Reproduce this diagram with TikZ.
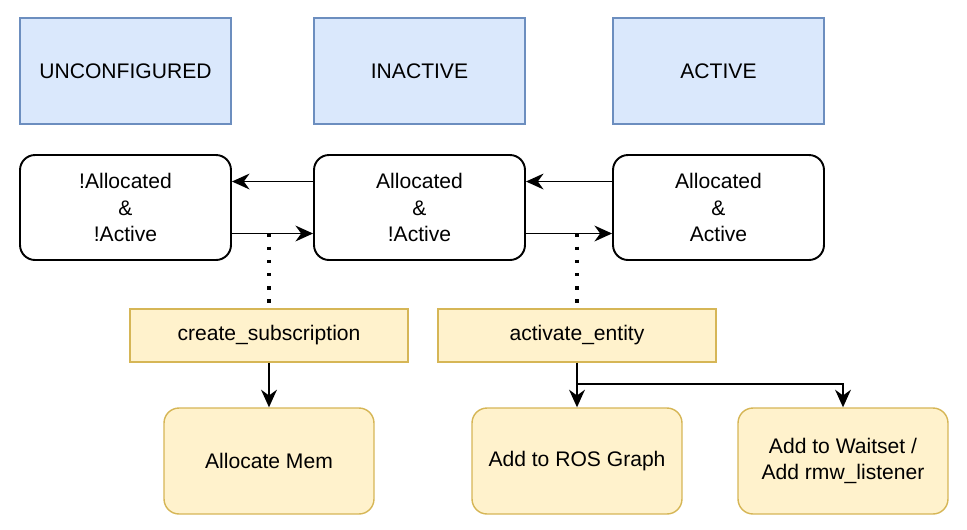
\documentclass[tikz,border=0pt]{standalone}
\usepackage{fontspec}
\setmainfont{Liberation Sans}
\usepackage{xcolor}
\usepackage{tikz}
\usetikzlibrary{calc,arrows.meta}
\definecolor{bluefill}{HTML}{DAE8FC}
\definecolor{bluedraw}{HTML}{6C8EBF}
\definecolor{yelfill}{HTML}{FFF2CC}
\definecolor{yeldraw}{HTML}{D6B656}
\tikzset{
  txt/.style={font=\fontsize{12}{15}\selectfont, align=center, inner sep=2pt},
  phase/.style={txt, draw=bluedraw, fill=bluefill, line width=0.8pt, minimum width=4.22cm, minimum height=2.12cm},
  state/.style={txt, draw=black, fill=white, line width=1.1pt, rounded corners=0.3cm, minimum width=4.22cm, minimum height=2.1cm},
  call/.style={txt, draw=yeldraw, fill=yelfill, line width=0.8pt, minimum width=5.56cm, minimum height=1.06cm},
  task/.style={txt, draw=yeldraw, fill=yelfill, line width=0.8pt, rounded corners=0.3cm, minimum width=4.2cm, minimum height=2.12cm},
  arr/.style={draw=black, line width=1.1pt, -{Stealth[length=10pt,width=9pt]}},
  dots/.style={draw=black, line width=1.9pt, dash pattern=on 1.9pt off 5.6pt},
}

\begin{document}
\begin{tikzpicture}[x=0.02cm, y=-0.02cm]
  \useasboundingbox (0,0) rectangle (967,529);
  % lifecycle phases
  \node[phase] (unconf) at (125.5,71) {UNCONFIGURED};
  \node[phase] (inact) at (419.5,71) {INACTIVE};
  \node[phase] (act) at (718.5,71) {ACTIVE};
  % states
  \node[state] (noalloc) at (125.5,207.5) {!Allocated\\\&\\!Active};
  \node[state] (alloc) at (419.5,207.5) {Allocated\\\&\\!Active};
  \node[state] (active) at (718.5,207.5) {Allocated\\\&\\Active};
  % calls and tasks
  \node[call] (csub) at (269,335.5) {create\_subscription};
  \node[call] (actent) at (577,335.5) {activate\_entity};
  \node[task] (mem) at (269,461) {Allocate Mem};
  \node[task] (graph) at (577,461) {Add to ROS Graph};
  \node[task] (wait) at (843,461) {Add to Waitset /\\Add rmw\_listener};
  % transitions
  \draw[arr] ([yshift=0.52cm]alloc.west) -- ([yshift=0.52cm]noalloc.east);
  \draw[arr] ([yshift=-0.52cm]noalloc.east) -- ([yshift=-0.52cm]alloc.west);
  \draw[arr] ([yshift=0.52cm]active.west) -- ([yshift=0.52cm]alloc.east);
  \draw[arr] ([yshift=-0.52cm]alloc.east) -- ([yshift=-0.52cm]active.west);
  \draw[dots] ([yshift=-0.52cm]noalloc.east -| csub.north) -- (csub.north);
  \draw[dots] ([yshift=-0.52cm]alloc.east -| actent.north) -- (actent.north);
  % effects
  \coordinate (split) at ($(actent.south)!0.48!(graph.north)$);
  \draw[arr] (csub.south) -- (mem.north);
  \draw[arr] (actent.south) -- (graph.north);
  \draw[arr] (split) -| (wait.north);
\end{tikzpicture}
\end{document}
